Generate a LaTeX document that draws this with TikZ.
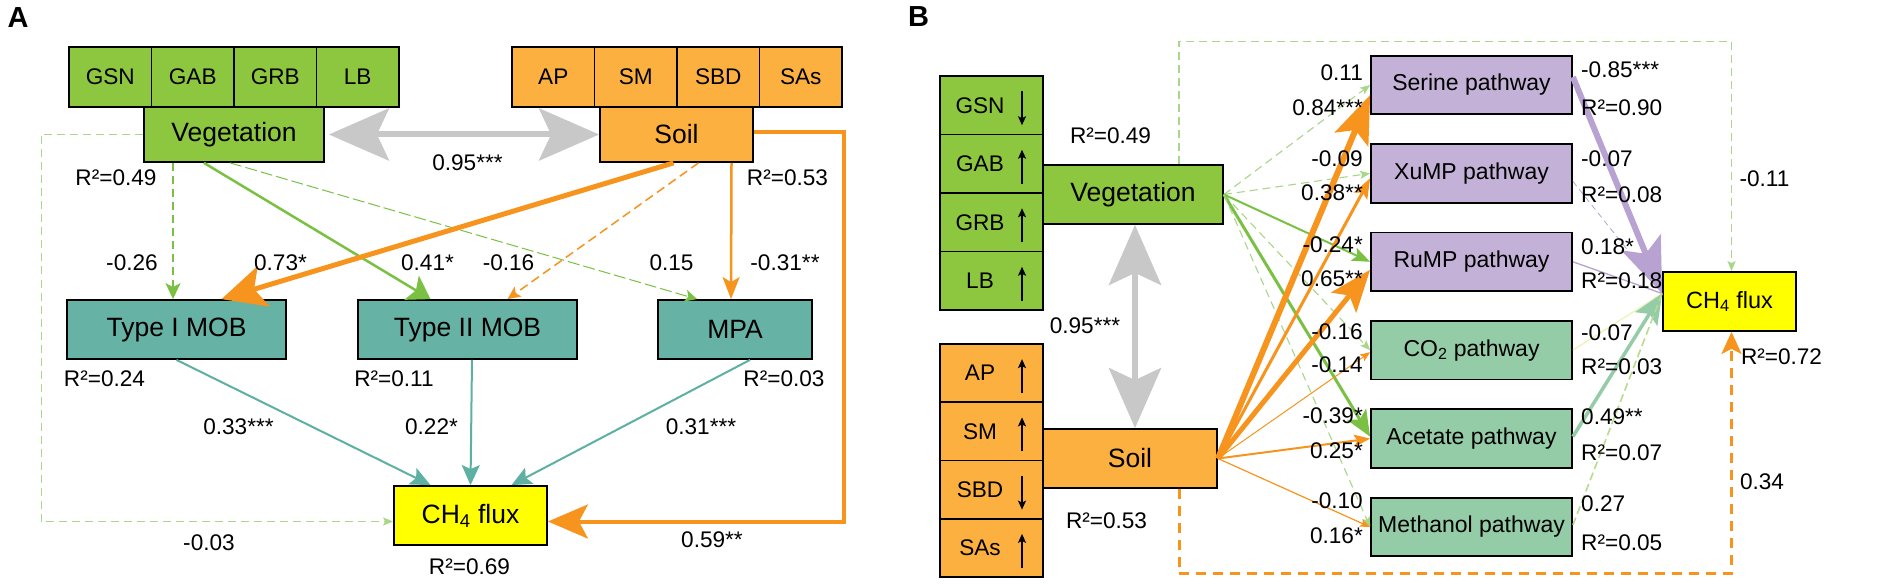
\documentclass[tikz,border=0pt]{standalone}
\usepackage{fontspec}
\setmainfont{Liberation Sans}
\usetikzlibrary{arrows.meta,positioning,calc}

\definecolor{vegfill}{HTML}{8DC63F}
\definecolor{soilfill}{HTML}{FBB040}
\definecolor{mobfill}{HTML}{66B2A5}
\definecolor{fluxfill}{HTML}{FFFF00}
\definecolor{purfill}{HTML}{C4B1D7}
\definecolor{pgfill}{HTML}{93CCA6}
\definecolor{grline}{HTML}{7AC143}
\definecolor{grlight}{HTML}{A9D78A}
\definecolor{orline}{HTML}{F7941D}
\definecolor{tealline}{HTML}{5DB0A2}
\definecolor{purline}{HTML}{B8A2D1}
\definecolor{paleline}{HTML}{EEF3B5}
\definecolor{medline}{HTML}{B7DC8E}
\definecolor{grayarr}{HTML}{C8C8C8}

\tikzset{
  cell/.style={draw=black, line width=1.8pt, inner sep=0pt, font=\fontsize{22.6}{26}\selectfont},
  box/.style={cell, font=\fontsize{26.5}{30}\selectfont},
  pbox/.style={cell, font=\fontsize{23}{27}\selectfont, minimum width=201pt, minimum height=58.5pt},
  lbl/.style={inner sep=0pt, font=\fontsize{22.6}{26}\selectfont},
  arrowhd/.style n args={3}{-{Stealth[length=#1pt,width=#2pt,inset=#3pt]}},
  graylink/.style={draw=grayarr, line width=6pt,
    {Stealth[length=60pt,width=52pt,inset=12pt]}-{Stealth[length=60pt,width=52pt,inset=12pt]}},
  grdash/.style={draw=grline, line width=1.6pt, dash pattern=on 8pt off 5pt},
  grthin/.style={draw=grlight, line width=1.1pt, dash pattern=on 8pt off 5pt},
  teal/.style={draw=tealline, line width=2pt, arrowhd={20}{18}{4}},
}

\begin{document}
\begin{tikzpicture}[x=1pt,y=-1pt]
\useasboundingbox (0,0) rectangle (1902,585);
\fill[white] (0,0) rectangle (1902,585);

% ---------- panel A ----------
\node[font=\fontsize{29}{32}\selectfont\bfseries] (titA) at (18,17.5) {A};

% vegetation and soil blocks
\foreach \t [count=\i] in {GSN,GAB,GRB,LB}
  \node[cell, fill=vegfill, minimum width=82.5pt, minimum height=60pt] (vA\i) at ({69+82.5*(\i-0.5)},77) {\t};
\node[box, fill=vegfill, minimum width=180pt, minimum height=55pt] (vegA) at (234,134.5) {Vegetation};
\foreach \t [count=\i] in {AP,SM,SBD,SAs}
  \node[cell, fill=soilfill, minimum width=82.5pt, minimum height=60pt] (sA\i) at ({512+82.5*(\i-0.5)},77) {\t};
\node[box, fill=soilfill, minimum width=153pt, minimum height=55pt] (soilA) at (676.5,134.5) {Soil};

% microbes and flux
\node[box, fill=mobfill, minimum width=219pt, minimum height=59pt] (typeI) at (176.5,329.5) {Type I MOB};
\node[box, fill=mobfill, minimum width=219pt, minimum height=59pt] (typeII) at (467.5,329.5) {Type II MOB};
\node[box, fill=mobfill, minimum width=154pt, minimum height=59pt] (mpa) at (735,329.5) {MPA};
\node[box, fill=fluxfill, minimum width=153pt, minimum height=59pt] (fluxA) at (470.5,515.5) {CH\textsubscript{4} flux};

% paths
\draw[graylink, shorten <=4pt] (vegA.east) -- (soilA.west);
\draw[grdash, arrowhd={16}{15}{4}] ([xshift=-61pt]vegA.south) -- ([xshift=-3.5pt]typeI.north);
\draw[draw=grline, line width=2.5pt, arrowhd={22}{28}{5}] ([xshift=-30pt]vegA.south) -- ([xshift=-37pt]typeII.north);
\draw[grdash, line width=1pt, dash pattern=on 12pt off 4pt, arrowhd={12}{12}{3}] ([xshift=-4pt]vegA.south) -- ([xshift=-38pt]mpa.north);
\draw[grthin, arrowhd={10}{8}{2}] (vegA.west) -- ++(-102,0) |- ([yshift=-6pt]fluxA.west);

\draw[draw=orline, line width=5pt, arrowhd={44}{42}{10}] ([xshift=-3pt]soilA.south) -- ([xshift=45pt]typeI.north);
\draw[draw=orline, line width=1.5pt, dash pattern=on 9pt off 5pt, arrowhd={13}{12}{3}] ([xshift=22pt]soilA.south) -- ([xshift=40pt]typeII.north);
\draw[draw=orline, line width=2.5pt, arrowhd={22}{17}{5}] ([xshift=55pt]soilA.south) -- ([xshift=-4pt]mpa.north);
\draw[draw=orline, line width=4pt, arrowhd={40}{34}{9}] ([yshift=2pt]soilA.east) -- ++(90,0) |- ([yshift=-6pt]fluxA.east);

\draw[teal] (typeI.south) -- ([xshift=-40pt]fluxA.north);
\draw[teal] ([xshift=4.5pt]typeII.south) -- (fluxA.north);
\draw[teal] ([xshift=15pt]mpa.south) -- ([xshift=41pt]fluxA.north);

% coefficients
\foreach \x/\y/\t [count=\i] in {467.5/163/0.95***, 116/178/R²=0.49, 787.5/178/R²=0.53,
    132/263/-0.26, 280.5/263/0.73*, 427.5/263/0.41*, 508.5/263/-0.16, 671.5/263/0.15, 785/263/-0.31**,
    104.5/379/R²=0.24, 394/379/R²=0.11, 784/379/R²=0.03,
    238.5/427/0.33***, 431.5/427/0.22*, 701/427/0.31***,
    209/543/-0.03, 712/540/0.59**, 469.5/567/R²=0.69}
  \node[lbl] (labA\i) at (\x,\y) {\t};

% ---------- panel B ----------
\node[font=\fontsize{29}{32}\selectfont\bfseries] (titB) at (918.5,17) {B};

% indicator columns
\foreach \t/\ya/\yb [count=\i] in {GSN/14/-20, GAB/-20/14, GRB/-20/14, LB/-20/14} {
  \node[cell, fill=vegfill, minimum width=103pt, minimum height=58.5pt] (vB\i) at (991.5,{76+58.5*(\i-0.5)}) {\t\hspace*{23pt}};
  \draw[line width=1.8pt, arrowhd={9}{8}{2}] ([xshift=30.5pt,yshift=\ya pt]vB\i.center) -- ([xshift=30.5pt,yshift=\yb pt]vB\i.center);
}
\foreach \t/\ya/\yb [count=\i] in {AP/-20/14, SM/-20/14, SBD/14/-20, SAs/-20/14} {
  \node[cell, fill=soilfill, minimum width=103pt, minimum height=58.25pt] (sB\i) at (991.5,{344+58.25*(\i-0.5)}) {\t\hspace*{23pt}};
  \draw[line width=1.8pt, arrowhd={9}{8}{2}] ([xshift=30.5pt,yshift=\ya pt]sB\i.center) -- ([xshift=30.5pt,yshift=\yb pt]sB\i.center);
}
\node[box, fill=vegfill, minimum width=180pt, minimum height=59pt] (vegB) at (1133,194.5) {Vegetation};
\node[box, fill=soilfill, minimum width=174pt, minimum height=59pt] (soilB) at (1130,458.5) {Soil};

% pathways and flux
\foreach \t/\c/\n [count=\i] in {Serine pathway/purfill/ser, XuMP pathway/purfill/xu, RuMP pathway/purfill/ru,
    {CO\textsubscript{2} pathway}/pgfill/co, Acetate pathway/pgfill/ac, Methanol pathway/pgfill/me}
  \node[pbox, fill=\c] (\n) at (1471.5,{85+88.4*(\i-1)}) {\t};
\node[box, fill=fluxfill, font=\fontsize{23.5}{27}\selectfont, minimum width=133pt, minimum height=59pt] (fluxB) at (1729.5,301.5) {CH\textsubscript{4} flux};

% correlation
\draw[graylink] ([xshift=2pt]vegB.south) -- ([xshift=5pt]soilB.north);

% vegetation to pathways
\draw[grthin, arrowhd={10}{8}{2}] (vegB.east) -- (ser.west);
\draw[grthin, arrowhd={10}{8}{2}] (vegB.east) -- (xu.west);
\draw[draw=grline, line width=2pt, arrowhd={18}{14}{4}] (vegB.east) -- (ru.west);
\draw[grthin, arrowhd={10}{8}{2}] (vegB.east) -- (co.west);
\draw[draw=grline, line width=3pt, arrowhd={26}{22}{6}] (vegB.east) -- ([yshift=2pt]ac.west);
\draw[grthin, arrowhd={10}{8}{2}] (vegB.east) -- (me.west);

% soil to pathways
\draw[draw=orline, line width=6pt, arrowhd={48}{36}{10}] (soilB.east) -- ([yshift=-10pt]ser.west);
\draw[draw=orline, line width=3pt, arrowhd={20}{15}{4}] (soilB.east) -- ([yshift=-5pt]xu.west);
\draw[draw=orline, line width=5pt, arrowhd={42}{32}{9}] (soilB.east) -- ([yshift=-8pt]ru.west);
\draw[draw=orline, line width=1pt, arrowhd={10}{8}{2}] (soilB.east) -- ([yshift=-2pt]co.west);
\draw[draw=orline, line width=2pt, arrowhd={16}{12}{3}] (soilB.east) -- (ac.west);
\draw[draw=orline, line width=1.2pt, arrowhd={10}{8}{2}] (soilB.east) -- (me.west);

% pathways to flux
\coordinate (fin) at ([yshift=8pt]fluxB.west);
\draw[draw=purline, line width=6pt, arrowhd={55}{42}{12}] ([yshift=8pt]ser.east) -- (fin);
\draw[draw=purline, line width=0.8pt, dash pattern=on 6pt off 4pt] ([yshift=-8pt]xu.east) -- (fin);
\draw[draw=purline, line width=1.3pt] (ru.east) -- (fin);
\draw[draw=paleline, line width=1.2pt] (co.east) -- (fin);
\draw[draw=pgfill, line width=3.5pt, arrowhd={30}{26}{6}] ([yshift=2pt]ac.east) -- (fin);
\draw[draw=medline, line width=1.6pt, dash pattern=on 8pt off 4pt] ([yshift=2pt]me.east) -- (fin);

% direct effects
\draw[grthin, arrowhd={10}{8}{2}] ([xshift=46pt]vegB.north) -- ++(0,-123) -| ([xshift=2pt]fluxB.north);
\draw[draw=orline, line width=3pt, dash pattern=on 10pt off 7pt, arrowhd={22}{20}{5}] ([xshift=49pt]soilB.south) -- ++(0,85) -| ([xshift=2pt]fluxB.south);

% coefficients
\foreach \x/\y/\t [count=\i] in {1110.5/136/R²=0.49, 1085/326/0.95***, 1106.5/521/R²=0.53,
    1764.5/179/-0.11, 1781.5/357/R²=0.72, 1762/482/0.34}
  \node[lbl] (labB\i) at (\x,\y) {\t};
\foreach \y/\t [count=\i] in {73/0.11, 108/0.84***, 159/-0.09, 193/0.38**, 245/-0.24*, 279/0.65**,
    332/-0.16, 365/-0.14, 416/-0.39*, 451/0.25*, 501/-0.10, 536/0.16*}
  \node[lbl, anchor=east] (inB\i) at (1363,\y) {\t};
\foreach \y/\t [count=\i] in {70/-0.85***, 108/R²=0.90, 159/-0.07, 195/R²=0.08, 247/0.18*, 281/R²=0.18,
    333/-0.07, 367/R²=0.03, 417/0.49**, 453/R²=0.07, 504/0.27, 543/R²=0.05}
  \node[lbl, anchor=west] (outB\i) at (1581,\y) {\t};
\end{tikzpicture}
\end{document}
